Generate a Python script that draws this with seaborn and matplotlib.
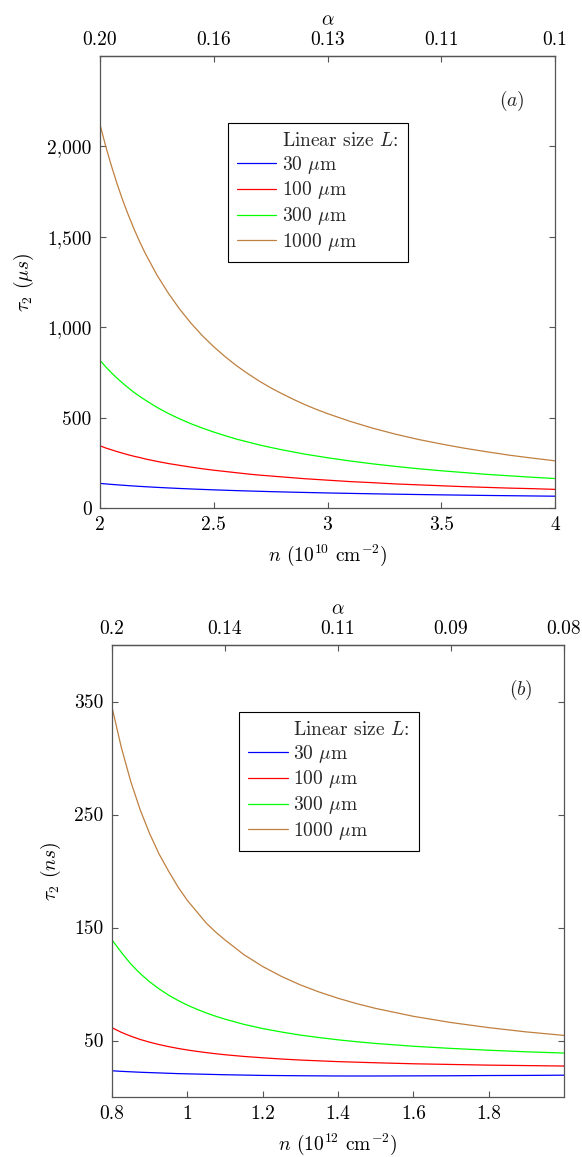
import matplotlib
matplotlib.use("Agg")
import matplotlib.pyplot as plt
from matplotlib.lines import Line2D
import seaborn as sns

# ---------------- data: panel (a) ----------------
n_a = [2.0, 2.025, 2.05, 2.075, 2.1, 2.125, 2.15, 2.175, 2.2,
       2.25, 2.3, 2.35, 2.4, 2.45, 2.5, 2.55, 2.6, 2.65, 2.7, 2.75, 2.8, 2.85, 2.9, 2.95, 3.0,
       3.1, 3.2, 3.3, 3.4, 3.5, 3.6, 3.7, 3.8, 3.9, 4.0]
tau_a_30 = [136, 133.2, 130.6, 128.2, 126, 123.7, 121.6, 119.6, 117.7,
            114.2, 111.0, 108.0, 105.3, 102.8, 100.4, 98.2, 96.1, 94.2, 92.4, 90.6, 89.0,
            87.4, 86.0, 84.6, 83.2,
            80.8, 78.5, 76.4, 74.5, 72.7, 71.0, 69.4, 68.0, 66.6, 65.3]
tau_a_100 = [344, 332, 322, 312, 303, 294, 286, 279, 271,
             258, 246, 236, 226, 217, 209, 202, 195, 188, 182, 177, 172, 167, 162, 158, 154,
             146, 140, 133, 128, 123, 118, 114, 110, 107, 103]
tau_a_300 = [817, 781, 748, 718, 690, 664, 639, 617, 596,
             557, 523, 493, 466, 442, 420, 400, 381, 365, 349, 335, 322, 310, 298, 288, 278,
             260, 244, 230, 217, 206, 196, 186, 178, 170, 163]
tau_a_1000 = [2122, 2001, 1893, 1793, 1702, 1619, 1542, 1471, 1406,
              1289, 1189, 1100, 1022, 953, 892, 837, 787, 743, 702, 665, 632, 601, 572, 546, 522,
              479, 441, 408, 379, 354, 331, 311, 292, 276, 261]
xticks_a = [2, 2.5, 3, 3.5, 4]
xticklabels_a = ["2", "2.5", "3", "3.5", "4"]
yticks_a = [0, 500, 1000, 1500, 2000]
yticklabels_a = ["0", "500", "1,000", "1,500", "2,000"]
alpha_pos_a = [2, 2.5, 3, 3.5, 4]
alpha_labels_a = ["0.20", "0.16", "0.13", "0.11", "0.1"]

# ---------------- data: panel (b) ----------------
n_b = [0.8, 0.825, 0.85, 0.875, 0.9, 0.925, 0.95, 0.975, 1.0, 1.025, 1.05, 1.075, 1.1,
       1.15, 1.2, 1.25, 1.3, 1.35, 1.4, 1.45, 1.5,
       1.6, 1.7, 1.8, 1.9, 2.0]
tau_b_30 = [23.2, 22.7, 22.3, 21.9, 21.6, 21.3, 21.0, 20.7, 20.5, 20.3, 20.1, 19.9, 19.7,
            19.4, 19.1, 18.95, 18.8, 18.7, 18.6, 18.6, 18.6,
            18.7, 18.8, 19.0, 19.1, 19.3]
tau_b_100 = [61.3, 57.2, 53.8, 50.9, 48.5, 46.4, 44.6, 43.0, 41.6, 40.4, 39.3, 38.3, 37.4,
             35.9, 34.7, 33.6, 32.7, 32.0, 31.3, 30.8, 30.3,
             29.4, 28.8, 28.2, 27.8, 27.4]
tau_b_300 = [139, 127.9, 117.7, 109.2, 101.9, 95.7, 90.2, 85.5, 81.3, 77.7, 74.4, 71.5, 68.9,
             64.3, 60.6, 57.5, 54.8, 52.6, 50.6, 48.9, 47.4,
             44.9, 43.0, 41.4, 40.0, 38.9]
tau_b_1000 = [345, 309, 279, 254, 233, 215, 200, 186, 174, 164, 154, 146, 139,
              126, 115.5, 106.7, 99.2, 92.9, 87.4, 82.6, 78.4,
              71.4, 65.9, 61.4, 57.6, 54.5]
xticks_b = [0.8, 1.0, 1.2, 1.4, 1.6, 1.8]
xticklabels_b = ["0.8", "1", "1.2", "1.4", "1.6", "1.8"]
yticks_b = [50, 150, 250, 350]
yticklabels_b = ["50", "150", "250", "350"]
alpha_pos_b = [0.8, 1.1, 1.4, 1.7, 2.0]
alpha_labels_b = ["0.2", "0.14", "0.11", "0.09", "0.08"]

series_labels = [r"30 $\mu$m", r"100 $\mu$m", r"300 $\mu$m", r"1000 $\mu$m"]
legend_title = r"Linear size $L$:"

# ---------------- style ----------------
sns.set_theme(style="white")
plt.rcParams.update({
    "font.family": ["serif"],
    "font.serif": ["cmr10", "DejaVu Serif"],
    "mathtext.fontset": "cm",
    "axes.unicode_minus": False,
    "axes.formatter.use_mathtext": True,
    "font.size": 14,
})

colors = ["#0000ff", "#ff0000", "#00ff00", "#bf8040"]
spine_col = "#555555"
FS = 14

fig = plt.figure(figsize=(5.82, 11.57), dpi=100)
ax_a = fig.add_axes([100 / 582, 1 - 508 / 1157, 455 / 582, 452 / 1157])
ax_b = fig.add_axes([112 / 582, 1 - 1097 / 1157, 452 / 582, 452 / 1157])


def panel(ax, n, ys, xlim, ylim, xt, xtl, yt, ytl, apos, alab, xlabel, ylabel, tag):
    handles = []
    for y, c in zip(ys, colors):
        sns.lineplot(x=n, y=y, ax=ax, color=c, linewidth=0.9, legend=False)
        handles.append(ax.lines[-1])
    ax.set_xlim(*xlim)
    ax.set_ylim(*ylim)
    ax.set_xticks(xt, xtl)
    ax.set_yticks(yt, ytl)
    for s in ax.spines.values():
        s.set_visible(True)
        s.set_color(spine_col)
        s.set_linewidth(0.9)
    ax.tick_params(axis="both", direction="in", length=4, width=0.8,
                   color=spine_col, labelsize=FS, pad=6, labelcolor="black")
    ax.tick_params(axis="y", right=True, left=True)
    ax.tick_params(axis="x", top=False, bottom=True)
    ax.set_xlabel(xlabel, fontsize=FS, labelpad=6, color="black")
    ax.set_ylabel(ylabel, fontsize=FS, labelpad=8, color="black")

    sec = ax.secondary_xaxis("top")
    sec.set_xticks(apos, alab)
    sec.tick_params(direction="in", length=4, width=0.8, color=spine_col,
                    labelsize=FS, pad=5, labelcolor="black")
    sec.spines["top"].set_color(spine_col)
    sec.spines["top"].set_linewidth(0.9)
    sec.set_xlabel(r"$\alpha$", fontsize=FS, labelpad=4, color="black")

    ax.text(0.905, 0.90, tag, transform=ax.transAxes, fontsize=FS,
            ha="center", va="center")

    dummy = Line2D([], [], color="none")
    leg = ax.legend([dummy] + handles, [legend_title] + series_labels,
                    loc="upper left", bbox_to_anchor=(0.281, 0.852),
                    borderaxespad=0, fontsize=FS, frameon=True, fancybox=False,
                    handlelength=2.05, handletextpad=0.3, labelspacing=0.2,
                    borderpad=0.45)
    fr = leg.get_frame()
    fr.set_edgecolor("black")
    fr.set_linewidth(0.8)
    fr.set_facecolor("white")
    fr.set_alpha(1)


panel(ax_a, n_a, [tau_a_30, tau_a_100, tau_a_300, tau_a_1000], (2, 4), (0, 2500),
      xticks_a, xticklabels_a, yticks_a, yticklabels_a, alpha_pos_a, alpha_labels_a,
      r"$n$ (10$^{10}$ cm$^{-2}$)", r"$\tau_2$ $(\mu s)$", r"$(a)$")
panel(ax_b, n_b, [tau_b_30, tau_b_100, tau_b_300, tau_b_1000], (0.8, 2.0), (0, 400),
      xticks_b, xticklabels_b, yticks_b, yticklabels_b, alpha_pos_b, alpha_labels_b,
      r"$n$ (10$^{12}$ cm$^{-2}$)", r"$\tau_2$ $(ns)$", r"$(b)$")

fig.savefig("out.png", dpi=100)
